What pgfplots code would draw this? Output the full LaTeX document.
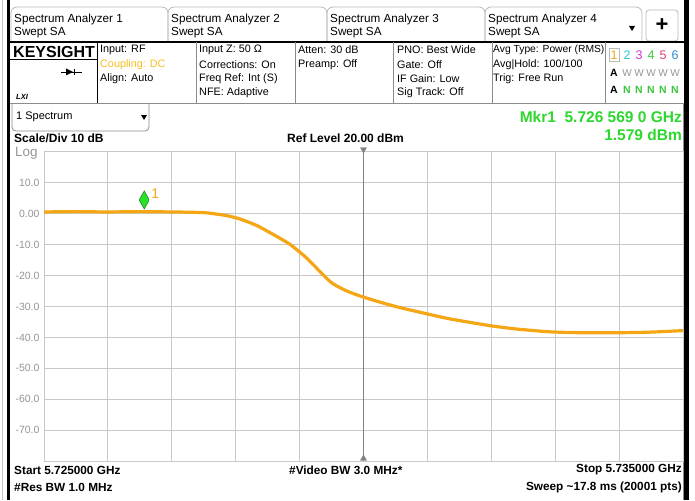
\documentclass[border=0pt]{standalone}
\usepackage{fontspec}
\setmainfont{Liberation Sans}
\usepackage{pgfplots}
\pgfplotsset{compat=1.18}
\definecolor{traceorange}{RGB}{245,166,20}
\definecolor{mkgreen}{RGB}{40,225,40}
\definecolor{txtgreen}{RGB}{45,215,45}
\definecolor{gridgray}{RGB}{200,200,200}
\definecolor{centergray}{RGB}{130,130,130}
\definecolor{labelgray}{RGB}{150,150,150}
\definecolor{tabgray}{RGB}{185,185,185}
\definecolor{panelgray}{RGB}{140,140,140}
\definecolor{couplingc}{RGB}{245,190,30}
\definecolor{c2}{RGB}{40,200,210}
\definecolor{c3}{RGB}{200,60,200}
\definecolor{c4}{RGB}{60,200,60}
\definecolor{c5}{RGB}{230,60,130}
\definecolor{c6}{RGB}{50,140,210}
\newcommand\fs[1]{\fontsize{#1}{#1}\selectfont}
\begin{document}
\begin{tikzpicture}[x=1pt,y=-1pt]
\path[use as bounding box] (0,0) rectangle (695,500);
\fill[white] (0,0) rectangle (695,500);
% side bars
\draw[gridgray, line width=1pt] (2,0) -- (2,500);
\fill[black] (7,0) rectangle (10,500);
\fill[black] (684,0) rectangle (689,500);
% tabs
\foreach \a/\b/\t in {11/168/1,168/327/2,327/485/3,485/642/4}{
  \draw[tabgray, line width=0.8pt, rounded corners=6pt] (\a,42) -- (\a,7) -- (\b,7) -- (\b,42);
  \node[anchor=west, inner sep=0pt, font=\fs{11.7}] at (\a+3,19) {Spectrum Analyzer \t};
  \node[anchor=west, inner sep=0pt, font=\fs{11.7}] at (\a+3,33) {Swept SA};
}
\fill[black] (629,26) -- (635,26) -- (632,31) -- cycle;
\draw[tabgray, line width=0.8pt, rounded corners=3pt] (646,10) rectangle (678,41);
\node[font=\fs{22}\bfseries, inner sep=0pt] at (662,25) {+};
% info panel
\draw[black, line width=1.2pt] (10,42) -- (684,42);
\draw[black, line width=1pt] (10,60) -- (97,60);
\draw[black, line width=1pt] (97,42) -- (97,103);
\foreach \x in {196,295,393,492,605}{ \draw[panelgray, line width=0.8pt] (\x,42) -- (\x,103); }
\node[anchor=west, inner sep=0pt, font=\fs{16}\bfseries] at (13,52) {KEYSIGHT};
\draw[black, line width=0.8pt] (61,72) -- (82,72);
\fill[black] (66,68.5) -- (73,72) -- (66,75.5) -- cycle;
\draw[black, line width=1pt] (74,69) -- (74,75);
\node[anchor=west, inner sep=0pt, font=\fs{7.5}\bfseries\itshape] at (16,97) {LXI};
\begin{scope}[every node/.style={anchor=west, inner sep=0pt, font=\fs{10.8}}]
\node at (100,50) {Input: RF};
\node[text=couplingc] at (100,65) {Coupling: DC};
\node at (100,79) {Align: Auto};
\node at (199,50) {Input Z: 50 Ω};
\node at (199,65) {Corrections: On};
\node at (199,79) {Freq Ref: Int (S)};
\node at (199,93) {NFE: Adaptive};
\node at (298,50) {Atten: 30 dB};
\node at (298,65) {Preamp: Off};
\node at (397,50) {PNO: Best Wide};
\node at (397,65) {Gate: Off};
\node at (397,79) {IF Gain: Low};
\node at (397,93) {Sig Track: Off};
\node[font=\fs{10.3}] at (493,50) {Avg Type: Power (RMS)};
\node at (493,65) {Avg|Hold: 100/100};
\node at (493,79) {Trig: Free Run};
\end{scope}
\draw[tabgray, line width=0.6pt] (609,48) rectangle (619,61);
\begin{scope}[every node/.style={inner sep=0pt, font=\fs{12.5}}]
\node[text=traceorange] at (614,55) {1};
\node[text=c2] at (627,55) {2};
\node[text=c3] at (639,55) {3};
\node[text=c4] at (651,55) {4};
\node[text=c5] at (663,55) {5};
\node[text=c6] at (675,55) {6};
\end{scope}
\begin{scope}[every node/.style={inner sep=0pt, font=\fs{10}}]
\node[font=\fs{10.5}\bfseries] at (614,73) {A};
\node[font=\fs{10.5}\bfseries] at (614,90) {A};
\foreach \x in {627,639,651,663,675}{
  \node[text=labelgray] at (\x,73) {W};
  \node[text=c4, font=\fs{10.5}\bfseries] at (\x,90) {N};
}
\end{scope}
% lower panel frame
\draw[panelgray, line width=1.5pt] (10,103.5) -- (684,103.5);
\draw[panelgray, line width=0.8pt] (683,103) -- (683,500);
\draw[panelgray, line width=0.8pt, rounded corners=4pt] (12,104) -- (12,131) -- (149,131) -- (149,104);
\node[anchor=west, inner sep=0pt, font=\fs{11}] at (16,117) {1 Spectrum};
\fill[black] (141,115) -- (147,115) -- (144,120) -- cycle;
\node[anchor=east, inner sep=0pt, font=\fs{15.5}\bfseries, text=txtgreen] at (682,117) {Mkr1\ \ 5.726 569 0 GHz};
\node[anchor=east, inner sep=0pt, font=\fs{15.5}\bfseries, text=txtgreen] at (682,135) {1.579 dBm};
\node[anchor=west, inner sep=0pt, font=\fs{12}\bfseries] at (14,138) {Scale/Div 10 dB};
\node[anchor=west, inner sep=0pt, font=\fs{12}\bfseries] at (287,138) {Ref Level 20.00 dBm};
\node[anchor=west, inner sep=0pt, font=\fs{13.5}, text=labelgray] at (15,153) {Log};
% bottom text
\begin{scope}[every node/.style={inner sep=0pt, font=\fs{11.8}\bfseries}]
\node[anchor=west] at (14,470) {Start 5.725000 GHz};
\node[anchor=west] at (14,487) {\#Res BW 1.0 MHz};
\node[anchor=west] at (289,470) {\#Video BW 3.0 MHz*};
\node[anchor=east] at (682,470) {Stop 5.735000 GHz};
\node[anchor=east] at (682,487) {Sweep \textasciitilde 17.8 ms (20001 pts)};
\end{scope}
% axis
\begin{axis}[
  at={(44pt,-461pt)}, anchor=south west,
  scale only axis, width=639pt, height=309pt,
  xmin=5725, xmax=5735, ymin=-80, ymax=20,
  xtick={5725,5726,...,5735}, xticklabels={},
  ytick={-70,-60,...,10},
  yticklabels={-70.0,-60.0,-50.0,-40.0,-30.0,-20.0,-10.0,0.00,10.0},
  major tick length=0pt,
  grid=major, grid style={gridgray, line width=1pt},
  axis line style={gridgray, line width=1pt},
  yticklabel style={text=labelgray, font=\fs{10.5}, xshift=-1pt},
  extra x ticks={5730}, extra x tick labels={},
  extra x tick style={grid style={centergray, line width=0.8pt}},
]
\addplot[traceorange, line width=3.2pt, smooth, tension=0.4, line join=round] table {
x y
5725.00 0.6
5725.50 0.7
5726.00 0.6
5726.50 0.7
5727.00 0.6
5727.30 0.5
5727.55 0.3
5727.86 -0.6
5728.07 -1.7
5728.33 -3.8
5728.58 -6.6
5728.85 -9.9
5729.12 -14.5
5729.37 -19.8
5729.52 -22.6
5729.74 -25.0
5729.99 -26.9
5730.31 -28.9
5730.60 -30.5
5731.00 -32.4
5731.35 -34.0
5731.98 -36.2
5732.40 -37.3
5732.92 -38.2
5733.44 -38.5
5733.97 -38.5
5734.48 -38.3
5735.00 -37.8
};
\addplot[only marks, mark=triangle*, mark size=3.5pt, mark options={rotate=180, fill=centergray, draw=centergray, yshift=-2.5pt}] coordinates {(5730,20)};
\addplot[only marks, mark=triangle*, mark size=3.5pt, mark options={fill=centergray, draw=centergray, yshift=2.5pt}] coordinates {(5730,-80)};
\addplot[only marks, mark=diamond*, mark size=9pt,
  mark options={fill=mkgreen, draw=mkgreen!55!black, line width=0.5pt, xscale=0.75, yshift=9pt},
  nodes near coords={1},
  every node near coord/.append style={anchor=center, xshift=11pt, yshift=6pt, fill=white, text=traceorange, font=\fs{14}, inner sep=2pt}
] coordinates {(5726.569,1.579)};
\end{axis}
\end{tikzpicture}
\end{document}
